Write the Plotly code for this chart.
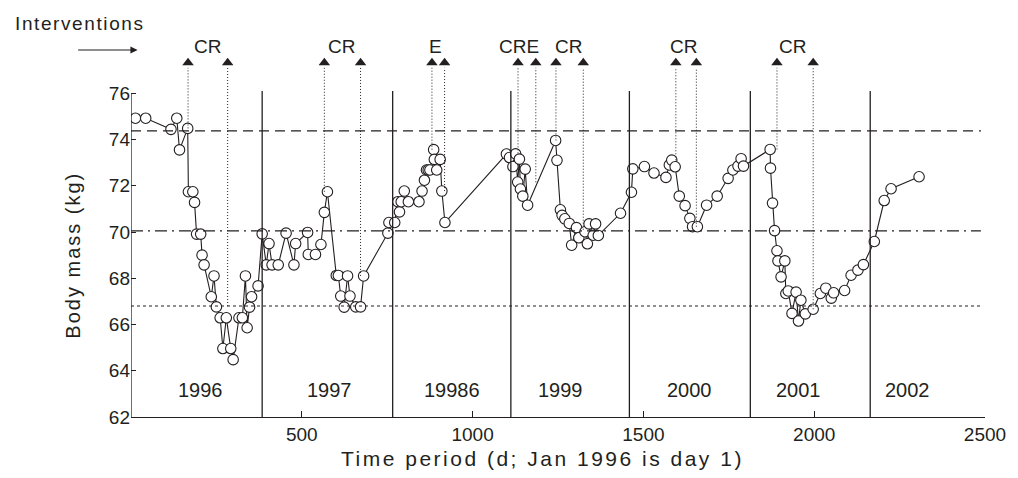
import plotly.graph_objects as go

# ---------------- data ----------------
days = [13, 43, 117, 134, 142, 166, 168, 181, 186, 192, 204, 208, 214, 235, 243, 250, 261, 269, 279, 292,
        299, 316, 326, 335, 340, 347, 353, 372, 384,
        396, 404, 413, 431, 454, 477, 482, 517, 519, 540, 556, 566, 575, 601, 607, 614, 624, 634, 641, 658,
        672, 681, 752, 755, 772,
        781, 786, 791, 800, 812, 843, 852, 859, 865, 870, 875, 886, 888, 895, 905, 910, 919,
        1099, 1108, 1118, 1126, 1132, 1137, 1140, 1147, 1154, 1161, 1243, 1247, 1257, 1262, 1270, 1283,
        1290, 1304, 1311, 1329, 1336, 1341, 1353, 1360, 1368, 1433, 1465, 1469,
        1503, 1531, 1566, 1576, 1583, 1593, 1605, 1622, 1636, 1644, 1658, 1685, 1716, 1748, 1762, 1777,
        1786, 1793, 1871,
        1872, 1878, 1884, 1891, 1894, 1903, 1914, 1917, 1924, 1935, 1947, 1954, 1961, 1974, 1997, 2018,
        2034, 2050, 2057, 2089, 2108, 2128, 2144, 2176, 2205, 2225, 2307]
mass = [74.92, 74.92, 74.44, 74.92, 73.55, 74.48, 71.74, 71.74, 71.28, 69.91, 69.91, 69.00, 68.58, 67.20,
        68.10, 66.76, 66.29, 64.96, 66.29, 64.96, 64.48, 66.29, 66.29, 68.10, 65.86, 66.75, 67.20, 67.67,
        69.92,
        68.58, 69.50, 68.58, 68.58, 69.95, 68.58, 69.50, 69.98, 69.03, 69.03, 69.46, 70.85, 71.74, 68.12,
        68.12, 67.23, 66.75, 68.10, 67.23, 66.76, 66.76, 68.10, 69.95, 70.41, 70.41,
        71.31, 70.87, 71.31, 71.77, 71.31, 71.31, 71.77, 72.24, 72.68, 72.68, 72.68, 73.56, 73.14, 72.68,
        73.14, 71.77, 70.41,
        73.37, 73.22, 72.83, 73.38, 72.16, 73.15, 71.86, 71.55, 72.72, 71.16, 73.96, 73.10, 70.96, 70.72,
        70.57, 70.37, 69.43, 70.19, 69.75, 70.01, 69.49, 70.35, 69.86, 70.35, 69.85, 70.81, 71.72, 72.73,
        72.83, 72.55, 72.36, 72.90, 73.11, 72.82, 71.55, 71.14, 70.59, 70.23, 70.23, 71.16, 71.55, 72.32,
        72.68, 72.85, 73.17, 72.85, 73.57,
        72.76, 71.25, 70.06, 69.19, 68.75, 68.06, 68.75, 67.34, 67.45, 66.48, 67.40, 66.15, 67.05, 66.46,
        66.66, 67.34, 67.57, 67.14, 67.37, 67.47, 68.13, 68.35, 68.59, 69.59, 71.36, 71.87, 72.39]

year_boundaries = [384, 766, 1112, 1459, 1813, 2164]
year_labels = ["1996", "1997", "19986", "1999", "2000", "2001", "2002"]
year_label_days = [204, 580, 940, 1257, 1634, 1953, 2272]

ref_levels = [74.37, 70.05, 66.8]          # dashed, dash-dot, dotted

intervention_days = [167, 283, 566, 672, 881, 918, 1133, 1185, 1244, 1324, 1595, 1655, 1891, 1997]
intervention_from = [74.48, 66.8, 71.74, 68.1, 73.56, 71.77, 73.4, 72.15, 73.96, 70.1, 73.1, 70.23, 73.57, 66.66]
intervention_labels = ["CR", "CR", "E", "CRE", "CR", "CR", "CR"]
intervention_label_days = [223, 615, 891, 1136, 1281, 1618, 1935]

x_ticks = [500, 1000, 1500, 2000, 2500]
y_ticks = [62, 64, 66, 68, 70, 72, 74, 76]

# ---------------- figure ----------------
FONT = "Liberation Sans, Arial, sans-serif"
INK = "#231f20"
ARROW_BASE = 77.1
PLOT_H = 370.0   # px, for paper conversions
BOTTOM_PX = 417.0


def paper_y(px):
    return (BOTTOM_PX - px) / PLOT_H


def spaced(text, px):
    return '<span style="letter-spacing:%spx">%s</span>' % (px, text)


fig = go.Figure()

shapes = []
shapes.append(dict(type="line", xref="x", yref="y", x0=0, x1=0, y0=62, y1=76,
                   line=dict(color=INK, width=1.3)))
for d in year_boundaries:
    shapes.append(dict(type="line", xref="x", yref="y", x0=d, x1=d, y0=62, y1=76.1,
                       line=dict(color=INK, width=1.3)))
dashes = ["10px,6px", "12px,5px,2px,5px", "3px,3px"]
for lvl, ds in zip(ref_levels, dashes):
    shapes.append(dict(type="line", xref="x", yref="y", x0=0, x1=2488, y0=lvl, y1=lvl,
                       line=dict(color=INK, width=1.2, dash=ds)))
for d, v in zip(intervention_days, intervention_from):
    shapes.append(dict(type="line", xref="x", yref="y", x0=d, x1=d, y0=v, y1=ARROW_BASE,
                       line=dict(color=INK, width=1, dash="1px,2px")))

fig.add_trace(go.Scatter(
    x=days, y=mass, mode="lines+markers",
    line=dict(color=INK, width=1.1),
    marker=dict(symbol="circle", size=10.5, color="white", line=dict(color=INK, width=1.1)),
    showlegend=False, hoverinfo="x+y"))

fig.add_trace(go.Scatter(
    x=intervention_days, y=[77.32] * len(intervention_days), mode="markers",
    marker=dict(symbol="triangle-up", size=10, color=INK),
    cliponaxis=False, showlegend=False, hoverinfo="skip"))

annotations = []
for lab, d in zip(year_labels, year_label_days):
    annotations.append(dict(x=d, y=63.17, xref="x", yref="y", text=lab, showarrow=False,
                            font=dict(size=20, color=INK, family=FONT), xanchor="center", yanchor="middle"))
for lab, d in zip(intervention_labels, intervention_label_days):
    annotations.append(dict(x=d, y=paper_y(46.5), xref="x", yref="paper", text=lab, showarrow=False,
                            font=dict(size=19, color=INK, family=FONT), xanchor="center", yanchor="middle"))
annotations.append(dict(x=-119 / 862, y=paper_y(23), xref="paper", yref="paper",
                        text=spaced("Interventions", 1.6),
                        showarrow=False, xanchor="left", yanchor="middle",
                        font=dict(size=19, color=INK, family=FONT)))
annotations.append(dict(x=19.4, y=77.87, xref="x", yref="y", text="", showarrow=True,
                        ax=-61, ay=0, arrowhead=2, arrowsize=1.2, arrowwidth=1.2, arrowcolor=INK))
annotations.append(dict(x=-58 / 862, y=69, xref="paper", yref="y", text=spaced("Body mass (kg)", 2),
                        textangle=-90, showarrow=False, xanchor="center", yanchor="middle",
                        font=dict(size=20, color=INK, family=FONT)))
annotations.append(dict(x=(546 - 131) / 862, y=paper_y(458), xref="paper", yref="paper",
                        text=spaced("Time period (d; Jan 1996 is day 1)", 2.5), showarrow=False,
                        xanchor="center", yanchor="middle",
                        font=dict(size=21, color=INK, family=FONT)))

fig.update_layout(
    width=1018, height=478,
    margin=dict(l=131, r=25, t=47, b=61),
    paper_bgcolor="white", plot_bgcolor="white",
    font=dict(family=FONT, size=19, color=INK),
    shapes=shapes, annotations=annotations,
    xaxis=dict(range=[0, 2500], tickvals=x_ticks, ticks="inside", ticklen=6, tickwidth=1.3,
               tickcolor=INK, showline=True, linecolor=INK, linewidth=1.3, showgrid=False,
               zeroline=False, tickfont=dict(size=19, color=INK, family=FONT)),
    yaxis=dict(range=[62, 78], tickvals=y_ticks, ticks="inside", ticklen=5, tickwidth=1.3,
               tickcolor=INK, showline=False, showgrid=False, zeroline=False,
               tickfont=dict(size=19, color=INK, family=FONT)),
)

fig.write_html("out.html")
